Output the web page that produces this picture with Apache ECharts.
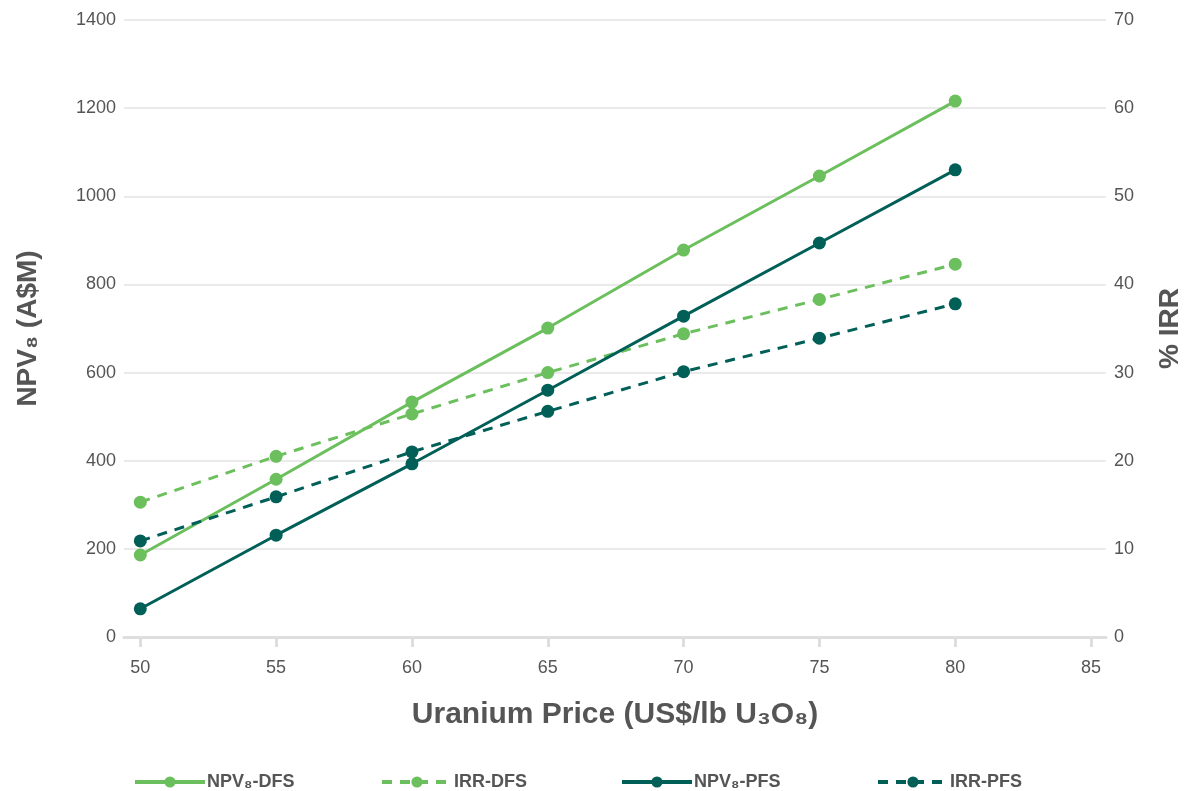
<!DOCTYPE html>
<html>
<head>
<meta charset="utf-8">
<script src="https://cdn.jsdelivr.net/npm/echarts@6/dist/echarts.min.js"></script>
<style>html,body{margin:0;padding:0;background:#fff}#c{width:1191px;height:791px}</style>
</head>
<body>
<div id="c"></div>
<script>
const prices = [50, 55, 60, 65, 70, 75, 80];
const xTicks = [50, 55, 60, 65, 70, 75, 80, 85];
const npvDFS = [186, 358, 533, 701, 878, 1046, 1216];
const irrDFS = [15.3, 20.5, 25.3, 30.0, 34.4, 38.3, 42.3];
const npvPFS = [64, 231, 393, 560, 728, 894, 1060];
const irrPFS = [10.9, 15.9, 21.0, 25.6, 30.1, 33.9, 37.8];
const seriesNames = ['NPV₈-DFS', 'IRR-DFS', 'NPV₈-PFS', 'IRR-PFS'];

const LIGHT = '#6cbf5d';
const DARK = '#005f57';
const TXT = '#555555';
const FONT = '"Liberation Sans", "Helvetica Neue", Arial, sans-serif';

function pts(vals) { return prices.map((p, i) => [p, vals[i]]); }
function mk(name, vals, color, dashed, yi) {
  return {
    name: name, type: 'line', yAxisIndex: yi, data: pts(vals),
    symbol: 'circle', symbolSize: 13, showSymbol: true,
    lineStyle: { color: color, width: 3, type: dashed ? [10, 8] : 'solid' },
    itemStyle: { color: color },
    emphasis: { disabled: true }, animation: false
  };
}
const legendLefts = [133, 380, 620, 876];
const legends = seriesNames.map((n, i) => ({
  top: 773, left: legendLefts[i], data: [n], padding: 0,
  itemWidth: 70, itemHeight: 14,
  lineStyle: { width: 4 },
  textStyle: { color: TXT, fontSize: 18, fontWeight: 'bold', fontFamily: FONT, padding: [0, 0, 0, -3] },
  selectedMode: false
}));

const chart = echarts.init(document.getElementById('c'), null, { renderer: 'canvas' });
chart.setOption({
  backgroundColor: '#fff',
  textStyle: { fontFamily: FONT },
  grid: { left: 124, right: 85, top: 20, bottom: 154, containLabel: false, outerBoundsMode: 'none' },
  legend: legends,
  xAxis: {
    type: 'value', min: 49.4, max: 85.55,
    name: 'Uranium Price (US$/lb U₃O₈)', nameLocation: 'middle', nameGap: 63,
    nameTextStyle: { color: TXT, fontSize: 30, fontWeight: 'bold', fontFamily: FONT },
    axisLine: { show: true, lineStyle: { color: '#dedede', width: 3 } },
    axisTick: { show: true, length: 10, lineStyle: { color: '#dedede', width: 3 }, customValues: xTicks },
    axisLabel: { color: TXT, fontSize: 18, margin: 22, customValues: xTicks, fontFamily: FONT },
    splitLine: { show: false }
  },
  yAxis: [
    {
      type: 'value', min: 0, max: 1400, interval: 200, position: 'left',
      name: 'NPV₈ (A$M)', nameLocation: 'middle', nameGap: 82, nameRotate: 90,
      nameTextStyle: { color: TXT, fontSize: 28, fontWeight: 'bold', fontFamily: FONT },
      axisLine: { show: false }, axisTick: { show: false },
      axisLabel: { color: TXT, fontSize: 18, margin: 8, fontFamily: FONT, formatter: v => String(v) },
      splitLine: { show: true, lineStyle: { color: '#e3e3e3', width: 1.5 } }
    },
    {
      type: 'value', min: 0, max: 70, interval: 10, position: 'right',
      name: '% IRR', nameLocation: 'middle', nameGap: 50, nameRotate: 90,
      nameTextStyle: { color: TXT, fontSize: 28, fontWeight: 'bold', fontFamily: FONT },
      axisLine: { show: false }, axisTick: { show: false },
      axisLabel: { color: TXT, fontSize: 18, margin: 8, fontFamily: FONT, formatter: v => String(v) },
      splitLine: { show: false }
    }
  ],
  series: [
    mk(seriesNames[0], npvDFS, LIGHT, false, 0),
    mk(seriesNames[1], irrDFS, LIGHT, true, 1),
    mk(seriesNames[2], npvPFS, DARK, false, 0),
    mk(seriesNames[3], irrPFS, DARK, true, 1)
  ]
});
</script>
</body>
</html>
